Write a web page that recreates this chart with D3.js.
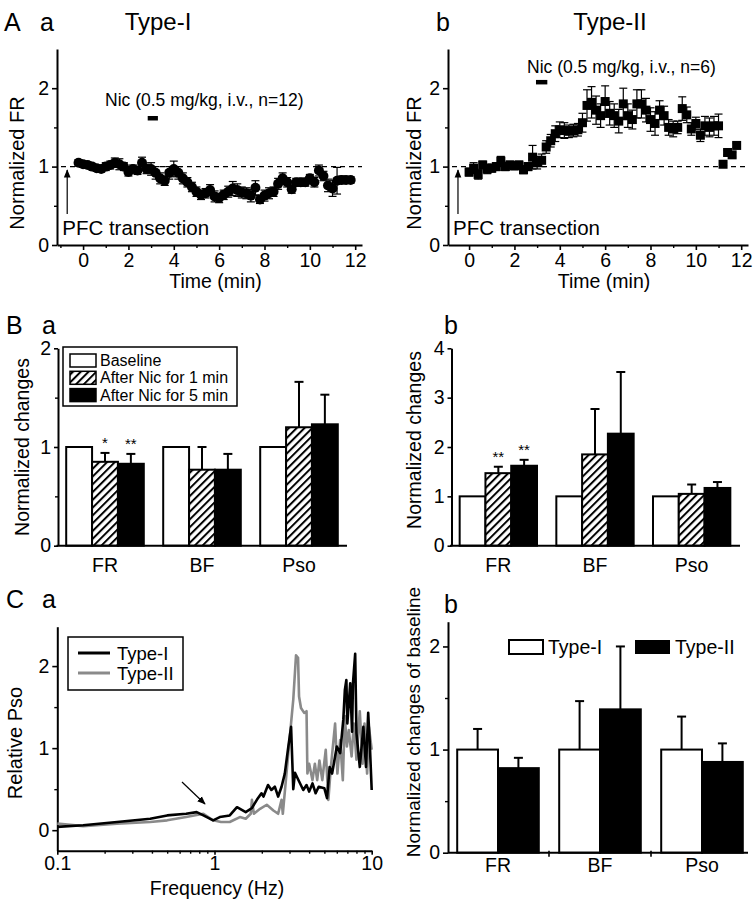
<!DOCTYPE html>
<html><head><meta charset="utf-8">
<script src="https://cdn.jsdelivr.net/npm/d3@7"></script>
<style>
body{margin:0;background:#fff}
svg text{font-family:"Liberation Sans",Arial,sans-serif;fill:#000}
</style></head><body><svg id="c" width="756" height="900"></svg>
<script>
// ---------- DATA ----------
// Panel A-a (Type-I): time (min), normalized FR, SEM
const timeI = [-0.2,0,0.2,0.4,0.6,0.8,1,1.2,1.4,1.6,1.8,2,2.2,2.4,2.6,2.8,3,3.2,3.4,3.6,3.8,4,4.2,4.4,4.6,4.8,5,5.2,5.4,5.6,5.8,6,6.2,6.4,6.6,6.8,7,7.2,7.4,7.6,7.8,8,8.2,8.4,8.6,8.8,9,9.2,9.4,9.6,9.8,10,10.2,10.4,10.6,10.8,11,11.2,11.4,11.6,11.8];
const frI = [1.05,1.03,1.02,1.00,0.98,0.97,1.00,1.02,1.05,1.03,1.00,0.93,0.97,0.95,1.05,0.97,0.97,0.92,0.85,0.82,0.92,0.97,0.92,0.85,0.80,0.74,0.68,0.64,0.66,0.70,0.62,0.60,0.64,0.68,0.72,0.70,0.67,0.66,0.63,0.73,0.58,0.63,0.66,0.68,0.78,0.85,0.80,0.71,0.80,0.80,0.80,0.85,0.80,0.95,0.88,0.76,0.72,0.82,0.83,0.83,0.83];
const errI = [0.04,0.04,0.04,0.04,0.04,0.04,0.05,0.05,0.06,0.07,0.05,0.05,0.05,0.05,0.07,0.06,0.08,0.08,0.07,0.06,0.08,0.10,0.08,0.07,0.06,0.06,0.06,0.06,0.06,0.07,0.07,0.06,0.06,0.07,0.09,0.08,0.07,0.07,0.08,0.09,0.05,0.07,0.07,0.06,0.07,0.07,0.06,0.05,0.05,0.05,0.05,0.05,0.06,0.07,0.06,0.08,0.10,0.17,0.05,0.04,0.04];
// Panel A-b (Type-II)
const timeII = [0,0.2,0.4,0.6,0.8,1,1.2,1.4,1.6,1.8,2,2.2,2.4,2.6,2.8,3,3.2,3.4,3.6,3.8,4,4.2,4.4,4.6,4.8,5,5.2,5.4,5.6,5.8,6,6.2,6.4,6.6,6.8,7,7.2,7.4,7.6,7.8,8,8.2,8.4,8.6,8.8,9,9.2,9.4,9.6,9.8,10,10.2,10.4,10.6,10.8,11,11.2,11.4,11.6,11.8];
const frII = [0.93,0.98,0.90,1.02,0.97,0.98,1.00,1.07,1.00,1.02,1.01,1.02,0.96,1.00,1.12,1.05,1.08,1.25,1.33,1.42,1.47,1.46,1.45,1.46,1.47,1.56,1.78,1.82,1.72,1.65,1.83,1.68,1.65,1.58,1.80,1.65,1.60,1.80,1.80,1.72,1.60,1.55,1.72,1.65,1.50,1.48,1.50,1.74,1.66,1.48,1.55,1.40,1.52,1.50,1.52,1.52,1.03,1.18,1.15,1.27];
const errII = [0.05,0.07,0.06,0.05,0.06,0.05,0.05,0.06,0.05,0.05,0.05,0.05,0.05,0.05,0.15,0.08,0.08,0.08,0.08,0.10,0.10,0.10,0.08,0.08,0.08,0.12,0.20,0.20,0.18,0.15,0.20,0.15,0.15,0.15,0.20,0.15,0.12,0.18,0.18,0.15,0.15,0.15,0.12,0.12,0.10,0.10,0.08,0.15,0.10,0.08,0.08,0.08,0.12,0.12,0.12,0.15,0.02,0.03,0.03,0.03];
const nicI = [2.85, 3.3], nicII = [2.95, 3.45];
const timeTicksMajor = [0,2,4,6,8,10,12];
const timeTicksMinor = [-1,1,3,5,7,9,11];

// Panel B
const groups = ["FR","BF","Pso"];
const bSeries = ["Baseline","After Nic for 1 min","After Nic for 5 min"];
const Ba_base = [1,1,1], Ba_nic1 = [0.85,0.77,1.20], Ba_nic5 = [0.83,0.77,1.23];
const Ba_err1 = [0.09,0.23,0.46], Ba_err5 = [0.10,0.16,0.30];
const Ba_stars1 = ["*","",""], Ba_stars5 = ["**","",""];
const Bb_base = [1,1,1], Bb_nic1 = [1.47,1.85,1.05], Bb_nic5 = [1.62,2.27,1.17];
const Bb_err1 = [0.13,0.92,0.19], Bb_err5 = [0.12,1.25,0.12];
const Bb_stars1 = ["**","",""], Bb_stars5 = ["**","",""];

// Panel C-a: spectra
const freqT1 = [0.1,0.146,0.24,0.39,0.5,0.66,0.77,0.85,0.98,1.08,1.25,1.39,1.58,1.73,1.86,1.99,2.05,2.19,2.3,2.42,2.54,2.67,2.8,2.95,3.07,3.17,3.25,3.4,3.67,3.85,4.0,4.2,4.4,4.6,5.0,5.2,5.4,5.6,6.0,6.3,6.6,6.75,6.9,7.0,7.3,7.5,7.6,7.85,8.0,8.4,8.85,9.2,9.5,9.7,10];
const psoT1 = [0.04,0.06,0.10,0.14,0.18,0.20,0.22,0.18,0.12,0.16,0.18,0.28,0.22,0.27,0.37,0.45,0.41,0.55,0.49,0.53,0.41,0.53,0.69,1.02,1.26,0.50,0.70,0.62,0.49,0.55,0.47,0.57,0.45,0.53,0.51,0.39,0.77,0.69,1.02,0.94,1.35,1.71,1.83,1.30,1.79,1.20,1.79,2.15,1.18,0.77,1.26,0.77,1.43,1.10,0.49];
const freqT2 = [0.1,0.146,0.24,0.39,0.5,0.66,0.85,0.98,1.1,1.25,1.45,1.58,1.7,1.73,1.78,1.95,2.15,2.37,2.54,2.67,2.72,2.87,3.0,3.17,3.3,3.4,3.45,3.55,3.72,3.85,3.9,4.0,4.2,4.35,4.5,4.65,4.85,5.1,5.3,5.5,5.85,6.05,6.3,6.55,6.75,6.95,7.15,7.45,7.7,8.0,8.4,8.75,9.0,9.35,9.6,10];
const psoT2 = [0.08,0.05,0.08,0.10,0.12,0.16,0.20,0.12,0.10,0.10,0.16,0.14,0.20,0.37,0.20,0.26,0.31,0.24,0.20,0.37,0.20,0.69,1.10,1.59,2.13,2.10,1.63,1.49,1.43,1.45,0.69,0.81,0.61,0.81,0.61,0.85,0.61,0.98,0.37,0.77,1.30,0.69,1.10,0.61,1.39,1.02,1.22,0.90,1.30,0.86,1.45,0.81,1.30,0.69,1.26,0.98];

// Panel C-b
const Cb_typeI = [1,1,1], Cb_errI = [0.20,0.47,0.32];
const Cb_typeII = [0.82,1.39,0.88], Cb_errII = [0.10,0.61,0.18];

// ---------- DRAWING ----------
const svg = d3.select('#c');
const FONT = '"Liberation Sans", Arial, sans-serif';
const fmt = d3.format('~g');
const defs = svg.append('defs');
const pat = defs.append('pattern').attr('id','hatch').attr('patternUnits','userSpaceOnUse')
  .attr('width',5.5).attr('height',5.5).attr('patternTransform','rotate(45)');
pat.append('rect').attr('width',5.5).attr('height',5.5).attr('fill','#fff');
pat.append('line').attr('x1',1).attr('y1',0).attr('x2',1).attr('y2',5.5).attr('stroke','#000').attr('stroke-width',2);
defs.append('marker').attr('id','arr').attr('viewBox','0 0 10 10').attr('refX',9).attr('refY',5)
  .attr('markerWidth',7).attr('markerHeight',7).attr('orient','auto')
  .append('path').attr('d','M0,1 L10,5 L0,9 Z').attr('fill','#000');

function text(x,y,s,size,anchor){
  return svg.append('text').attr('x',x).attr('y',y).text(s).attr('fill','#000')
    .attr('font-size',size).attr('text-anchor',anchor||'start').attr('font-family',FONT);
}
function vtext(x,y,s,size){
  return svg.append('text').attr('transform',`translate(${x},${y}) rotate(-90)`)
    .attr('text-anchor','middle').attr('dominant-baseline','central')
    .attr('font-size',size).attr('font-family',FONT).text(s);
}
function axis(gen, tx, ty, fs){
  const g = svg.append('g').attr('transform',`translate(${tx},${ty})`).call(gen);
  g.select('.domain').attr('stroke','#000').attr('stroke-width',2);
  g.selectAll('.tick line').attr('stroke','#000').attr('stroke-width',1.6);
  g.selectAll('.tick text').attr('font-size',fs).attr('font-family',FONT).attr('fill','#000');
  return g;
}
function minor(gen, tx, ty){
  const g = svg.append('g').attr('transform',`translate(${tx},${ty})`).call(gen);
  g.select('.domain').remove();
  g.selectAll('.tick line').attr('stroke','#000').attr('stroke-width',1.4);
  g.selectAll('.tick text').remove();
}

// ----- Panel A -----
function panelA(o){
  const x = d3.scaleLinear().domain(o.xd).range(o.xr);
  const y = d3.scaleLinear().domain([0,2.5]).range([245,49]);
  svg.append('line').attr('x1',o.xr[0]+4).attr('x2',o.xr[1]).attr('y1',y(1)).attr('y2',y(1))
    .attr('stroke','#000').attr('stroke-width',1.3).attr('stroke-dasharray','5,4');
  axis(d3.axisLeft(y).tickValues([0,1,2]).tickFormat(fmt).tickSize(5).tickPadding(3).tickSizeOuter(0), o.xr[0], 0, 19.5);
  minor(d3.axisLeft(y).tickValues([0.5,1.5]).tickSize(3), o.xr[0], 0);
  axis(d3.axisBottom(x).tickValues(timeTicksMajor).tickFormat(fmt).tickSize(5).tickPadding(3).tickSizeOuter(0), 0, 245, 19.5);
  minor(d3.axisBottom(x).tickValues(timeTicksMinor.filter(v=>v>o.xd[0])).tickSize(3), 0, 245);
  const data = o.t.map((t,i)=>({t, v:o.v[i], e:o.e[i]}));
  const eb = svg.append('g').attr('stroke','#000').attr('stroke-width',1.2);
  data.forEach(d=>{
    const cx = x(d.t), y1 = y(d.v-d.e), y2 = y(d.v+d.e);
    eb.append('line').attr('x1',cx).attr('x2',cx).attr('y1',y1).attr('y2',y2);
    eb.append('line').attr('x1',cx-4).attr('x2',cx+4).attr('y1',y1).attr('y2',y1);
    eb.append('line').attr('x1',cx-4).attr('x2',cx+4).attr('y1',y2).attr('y2',y2);
  });
  if(o.marker==='circle'){
    svg.append('g').selectAll('circle').data(data).join('circle')
      .attr('cx',d=>x(d.t)).attr('cy',d=>y(d.v)).attr('r',5).attr('fill','#000');
  } else {
    svg.append('g').selectAll('rect').data(data).join('rect')
      .attr('x',d=>x(d.t)-4.5).attr('y',d=>y(d.v)-4.5).attr('width',9).attr('height',9).attr('fill','#000');
  }
  svg.append('rect').attr('x',x(o.nic[0])).attr('width',x(o.nic[1])-x(o.nic[0]))
    .attr('y',y(o.nicY)-2).attr('height',4.5).attr('fill','#000');
  text(o.nicTx, y(o.nicY)+ o.nicDy, o.nicText, 17.5, 'start');
  svg.append('line').attr('x1',x(o.arrT)).attr('x2',x(o.arrT)).attr('y1',214).attr('y2',170)
    .attr('stroke','#000').attr('stroke-width',1.2).attr('marker-end','url(#arr)');
  text(x(o.arrT)-5, 235, 'PFC transection', 20.5, 'start');
  text((o.xr[0]+o.xr[1])/2+6, 288, 'Time (min)', 19.5, 'middle');
  vtext(o.ylx, 163, 'Normalized FR', 20);
  text(o.titleX, 30, o.title, 24, 'middle');
}
panelA({xd:[-1.15,12.3], xr:[57,362], t:timeI, v:frI, e:errI, marker:'circle', nic:nicI, nicY:1.62,
  nicDy:-12, nicTx:105, nicText:'Nic (0.5 mg/kg, i.v., n=12)', arrT:-0.7, ylx:17, title:'Type-I', titleX:158});
panelA({xd:[-0.93,12.3], xr:[448,748], t:timeII, v:frII, e:errII, marker:'square', nic:nicII, nicY:2.08,
  nicDy:-9, nicTx:527, nicText:'Nic (0.5 mg/kg, i.v., n=6)', arrT:-0.49, ylx:414, title:'Type-II', titleX:610});

// ----- Panel B -----
function panelB(o){
  const gx = d3.scaleBand().domain(groups).range(o.xr).paddingInner(0.2).paddingOuter(0.1);
  const sx = d3.scaleBand().domain([0,1,2]).range([0,gx.bandwidth()]);
  const y = d3.scaleLinear().domain(o.yd).range([545.7,348.3]);
  const series = [o.base,o.n1,o.n5], errs=[null,o.e1,o.e5], stars=[null,o.s1,o.s5];
  const fills = ['#fff','url(#hatch)','#000'];
  const rows = [];
  series.forEach((arr,si)=>arr.forEach((v,gi)=>rows.push({g:groups[gi],si,v,e:errs[si]?errs[si][gi]:0,s:stars[si]?stars[si][gi]:''})));
  const eb = svg.append('g').attr('stroke','#000').attr('stroke-width',2);
  rows.filter(d=>d.e>0).forEach(d=>{
    const cx = gx(d.g)+sx(d.si)+sx.bandwidth()/2;
    eb.append('line').attr('x1',cx).attr('x2',cx).attr('y1',y(d.v)).attr('y2',y(d.v+d.e));
    eb.append('line').attr('x1',cx-4.5).attr('x2',cx+4.5).attr('y1',y(d.v+d.e)).attr('y2',y(d.v+d.e));
  });
  svg.append('g').selectAll('rect').data(rows).join('rect')
    .attr('x',d=>gx(d.g)+sx(d.si)).attr('width',sx.bandwidth())
    .attr('y',d=>y(d.v)).attr('height',d=>y(0)-y(d.v))
    .attr('fill',d=>fills[d.si]).attr('stroke','#000').attr('stroke-width',2);
  rows.filter(d=>d.s).forEach(d=>{
    const cx = gx(d.g)+sx(d.si)+sx.bandwidth()/2;
    text(cx, y(d.v+d.e)-5, d.s, 15, 'middle');
  });
  axis(d3.axisLeft(y).tickValues(o.yt).tickFormat(fmt).tickSize(4).tickPadding(3).tickSizeOuter(0), o.xr[0]+1.5, 0, 19.5);
  if(o.minor) minor(d3.axisLeft(y).tickValues(o.minor).tickSize(3), o.xr[0]+1.5, 0);
  svg.append('line').attr('x1',o.xr[0]).attr('x2',o.axEnd).attr('y1',y(0)).attr('y2',y(0)).attr('stroke','#000').attr('stroke-width',2);
  groups.forEach(g=>text(gx(g)+gx.bandwidth()/2, 572, g, 19.5, 'middle'));
  vtext(o.ylx, o.yly, 'Normalized changes', 19.5);
}
panelB({xr:[56.5,347.5], axEnd:347, yd:[0,2], yt:[0,1,2], minor:[0.5,1.5], base:Ba_base, n1:Ba_nic1, n5:Ba_nic5,
  e1:Ba_err1, e5:Ba_err5, s1:Ba_stars1, s5:Ba_stars5, ylx:22, yly:447});
panelB({xr:[450,740], axEnd:740, yd:[0,4], yt:[0,1,2,3,4], minor:null, base:Bb_base, n1:Bb_nic1, n5:Bb_nic5,
  e1:Bb_err1, e5:Bb_err5, s1:Bb_stars1, s5:Bb_stars5, ylx:414, yly:440});
// B-a legend
svg.append('rect').attr('x',63).attr('y',347).attr('width',174).attr('height',59).attr('fill','#fff').attr('stroke','#000').attr('stroke-width',1.5);
const legFills = ['#fff','url(#hatch)','#000'];
bSeries.forEach((s,i)=>{
  const cy = 360.5 + i*17.3;
  svg.append('rect').attr('x',70).attr('y',cy-6.5).attr('width',26).attr('height',13).attr('fill',legFills[i]).attr('stroke','#000').attr('stroke-width',1.5);
  text(100, cy+5.5, s, 16, 'start');
});

// ----- Panel C-a -----
{
  const x = d3.scaleLog().domain([0.1,10]).range([57.3,371.7]);
  const y = d3.scaleLinear().domain([-0.25,2.48]).range([850.7,626.7]);
  axis(d3.axisLeft(y).tickValues([0,1,2]).tickFormat(fmt).tickSize(5).tickPadding(3).tickSizeOuter(0), 57.3, 0, 19.5);
  minor(d3.axisLeft(y).tickValues([0.5,1.5]).tickSize(3), 57.3, 0);
  axis(d3.axisBottom(x).tickValues([0.1,1,10]).tickFormat(fmt).tickSize(4).tickPadding(1).tickSizeOuter(0), 0, 850.7, 19.5);
  minor(d3.axisBottom(x).tickValues([0.2,0.3,0.4,0.5,0.6,0.7,0.8,0.9,2,3,4,5,6,7,8,9]).tickSize(3), 0, 850.7);
  const line = d3.line().x(d=>x(d[0])).y(d=>y(d[1]));
  svg.append('path').datum(freqT2.map((f,i)=>[f,psoT2[i]])).attr('d',line).attr('fill','none').attr('stroke','#8a8a8a').attr('stroke-width',2.6).attr('stroke-linejoin','round');
  svg.append('path').datum(freqT1.map((f,i)=>[f,psoT1[i]])).attr('d',line).attr('fill','none').attr('stroke','#000').attr('stroke-width',2.6).attr('stroke-linejoin','round');
  svg.append('line').attr('x1',182).attr('y1',782).attr('x2',205).attr('y2',804).attr('stroke','#000').attr('stroke-width',1.2).attr('marker-end','url(#arr)');
  svg.append('rect').attr('x',68).attr('y',637).attr('width',115).attr('height',53).attr('fill','#fff').attr('stroke','#000').attr('stroke-width',1.5);
  [['Type-I','#000'],['Type-II','#8a8a8a']].forEach((d,i)=>{
    const cy = 653 + i*20;
    svg.append('line').attr('x1',78).attr('x2',110).attr('y1',cy).attr('y2',cy).attr('stroke',d[1]).attr('stroke-width',3);
    text(117, cy+6.5, d[0], 18.5, 'start');
  });
  text(217, 895, 'Frequency (Hz)', 19.5, 'middle');
  vtext(15, 743, 'Relative Pso', 20);
}

// ----- Panel C-b -----
{
  const gx = d3.scaleBand().domain(groups).range([447,753]).paddingInner(0.2).paddingOuter(0.1);
  const sx = d3.scaleBand().domain([0,1]).range([0,gx.bandwidth()]);
  const y = d3.scaleLinear().domain([0,2.24]).range([852.7,621.7]);
  const rows = [];
  [[Cb_typeI,Cb_errI],[Cb_typeII,Cb_errII]].forEach((s,si)=>s[0].forEach((v,gi)=>rows.push({g:groups[gi],si,v,e:s[1][gi]})));
  const eb = svg.append('g').attr('stroke','#000').attr('stroke-width',2);
  rows.forEach(d=>{
    const cx = gx(d.g)+sx(d.si)+sx.bandwidth()/2;
    eb.append('line').attr('x1',cx).attr('x2',cx).attr('y1',y(d.v)).attr('y2',y(d.v+d.e));
    eb.append('line').attr('x1',cx-4.5).attr('x2',cx+4.5).attr('y1',y(d.v+d.e)).attr('y2',y(d.v+d.e));
  });
  svg.append('g').selectAll('rect').data(rows).join('rect')
    .attr('x',d=>gx(d.g)+sx(d.si)).attr('width',sx.bandwidth())
    .attr('y',d=>y(d.v)).attr('height',d=>y(0)-y(d.v))
    .attr('fill',d=>d.si?'#000':'#fff').attr('stroke','#000').attr('stroke-width',2);
  axis(d3.axisLeft(y).tickValues([0,1,2]).tickFormat(fmt).tickSize(5).tickPadding(3).tickSizeOuter(0), 448, 0, 19.5);
  minor(d3.axisLeft(y).tickValues([0.5,1.5]).tickSize(3), 448, 0);
  svg.append('line').attr('x1',448).attr('x2',748).attr('y1',y(0)).attr('y2',y(0)).attr('stroke','#000').attr('stroke-width',2);
  [1,2].forEach(i=>{
    const bx = gx(groups[i]) - gx.step()*gx.paddingInner()/2;
    svg.append('line').attr('x1',bx).attr('x2',bx).attr('y1',y(0)-2).attr('y2',y(0)+4).attr('stroke','#000').attr('stroke-width',1.6);
  });
  groups.forEach(g=>text(gx(g)+gx.bandwidth()/2, 872, g, 19.5, 'middle'));
  svg.append('rect').attr('x',509).attr('y',640).attr('width',34).attr('height',14).attr('fill','#fff').attr('stroke','#000').attr('stroke-width',2);
  text(548, 654, 'Type-I', 19.5, 'start');
  svg.append('rect').attr('x',635).attr('y',640).attr('width',35).attr('height',14).attr('fill','#000');
  text(675, 654, 'Type-II', 19.5, 'start');
  vtext(413, 722, 'Normalized changes of baseline', 19);
}

// ----- Panel letters -----
text(4, 31, 'A', 25, 'start');
text(40, 31, 'a', 25, 'start');
text(436, 31, 'b', 25, 'start');
text(6, 334, 'B', 25, 'start');
text(42, 334, 'a', 25, 'start');
text(444, 334, 'b', 25, 'start');
text(6, 608, 'C', 25, 'start');
text(42, 608, 'a', 25, 'start');
text(444, 613, 'b', 25, 'start');
</script></body></html>
